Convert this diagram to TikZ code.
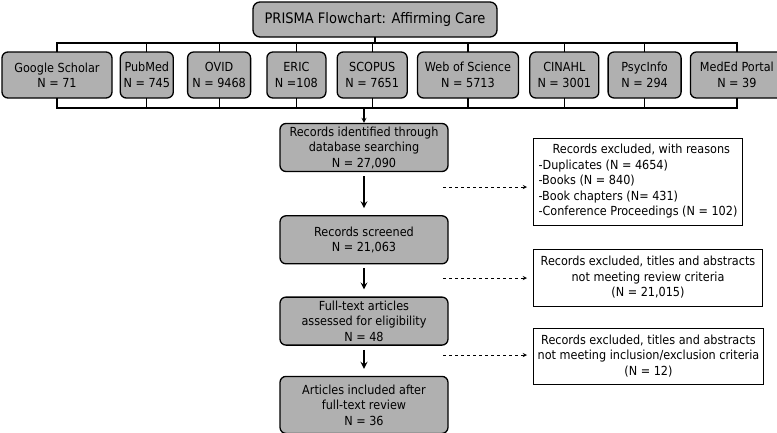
\documentclass[tikz,border=0pt]{standalone}
\usepackage{fontspec}
\setmainfont{DejaVu Sans Condensed}
\usetikzlibrary{positioning, arrows.meta}
\definecolor{boxgray}{RGB}{176,176,176}

\begin{document}
\begin{tikzpicture}[
        x=1pt, y=1pt,
        every node/.style={font=\fontsize{12.5}{15.5}\selectfont},
        headbox/.style={rectangle, rounded corners=7pt, draw=black, line width=1.3pt, fill=boxgray, minimum width=244pt, minimum height=35pt, font=\fontsize{14.5}{17}\selectfont},
        db/.style={rectangle, rounded corners=6pt, draw=black, line width=1.3pt, fill=boxgray, minimum height=46pt, inner xsep=2pt, inner ysep=1pt, align=center},
        stage/.style={db, minimum width=168pt, minimum height=48pt},
        excl/.style={rectangle, draw=black, line width=1pt, fill=white, inner sep=2pt, anchor=west},
        link/.style={line width=1.2pt, line cap=rect},
        arrow/.style={line width=2pt, ->, >=stealth},
        dasharrow/.style={line width=0.9pt, dashed, ->, >=stealth}
        ]
        \useasboundingbox (0,0) rectangle (777,-432);

        \node[headbox] (head) at (375,-19.5) {PRISMA Flowchart: Affirming Care};

        % databases
        \node[db, minimum width=110pt] (scholar) at (57,-75) {Google Scholar\\N = 71};
        \node[db, minimum width=53pt, right=7pt of scholar] (pubmed) {PubMed\\N = 745};
        \node[db, minimum width=63pt, right=13pt of pubmed] (ovid) {OVID\\N = 9468};
        \node[db, minimum width=59pt, right=15pt of ovid] (eric) {ERIC\\N =108};
        \node[db, minimum width=70pt, right=10pt of eric] (scopus) {SCOPUS\\N = 7651};
        \node[db, minimum width=101pt, right=9pt of scopus] (wos) {Web of Science\\N = 5713};
        \node[db, minimum width=69pt, right=10pt of wos] (cinahl) {CINAHL\\N = 3001};
        \node[db, minimum width=73pt, right=8pt of cinahl] (psycinfo) {PsycInfo\\N = 294};
        \node[db, minimum width=93pt, right=8pt of psycinfo] (meded) {MedEd Portal\\N = 39};

        % screening stages
        \node[stage] (identified) at (364,-147.5) {Records identified through\\database searching\\N = 27,090};
        \node[stage, below=43pt of identified] (screened) {Records screened\\N = 21,063};
        \node[stage, below=32pt of screened] (fulltext) {Full-text articles\\assessed for eligibility\\N = 48};
        \node[stage, minimum height=57pt, below=30pt of fulltext] (included) {Articles included after\\full-text review\\N = 36};

        % exclusions
        \node[excl, minimum width=209pt, minimum height=87pt, align=left] (excl1) at (533,-181.5) {\hspace*{14pt}Records excluded, with reasons\\-Duplicates (N = 4654)\\-Books (N = 840)\\-Book chapters (N= 431)\\-Conference Proceedings (N = 102)};
        \node[excl, minimum width=229pt, minimum height=57pt, align=center] (excl2) at (533,-277.5) {Records excluded, titles and abstracts\\not meeting review criteria\\(N = 21,015)};
        \node[excl, minimum width=230pt, minimum height=56pt, align=center] (excl3) at (533,-356) {Records excluded, titles and abstracts\\not meeting inclusion/exclusion criteria\\(N = 12)};

        \coordinate (topbar) at (0,-43);
        \coordinate (botbar) at (0,-108);
        \coordinate (d1) at (443,-187);
        \coordinate (d2) at (443,-278);
        \coordinate (d3) at (443,-355);

        \draw[link] (scholar.north |- topbar) -- (meded.north |- topbar);
        \draw[link] (head.south) -- (head.south |- topbar);
        \foreach \db in {scholar,pubmed,ovid,eric,scopus,wos,cinahl,psycinfo,meded} {
            \draw[link] (\db.north) -- (\db.north |- topbar);
            \draw[link] (\db.south) -- (\db.south |- botbar);
        }
        \draw[link] (scholar.south |- botbar) -- (meded.south |- botbar);
        \draw[arrow, line width=1.2pt] (identified.north |- botbar) -- (identified.north);

        \draw[arrow, shorten <=4pt, shorten >=7pt] (identified) -- (screened);
        \draw[arrow, shorten <=4pt, shorten >=7pt] (screened) -- (fulltext);
        \draw[arrow, shorten <=4pt, shorten >=7pt] (fulltext) -- (included);

        \draw[dasharrow, shorten >=6pt] (d1) -- (d1 -| excl1.west);
        \draw[dasharrow, shorten >=6pt] (d2) -- (d2 -| excl2.west);
        \draw[dasharrow, shorten >=6pt] (d3) -- (d3 -| excl3.west);
    \end{tikzpicture}
\end{document}
